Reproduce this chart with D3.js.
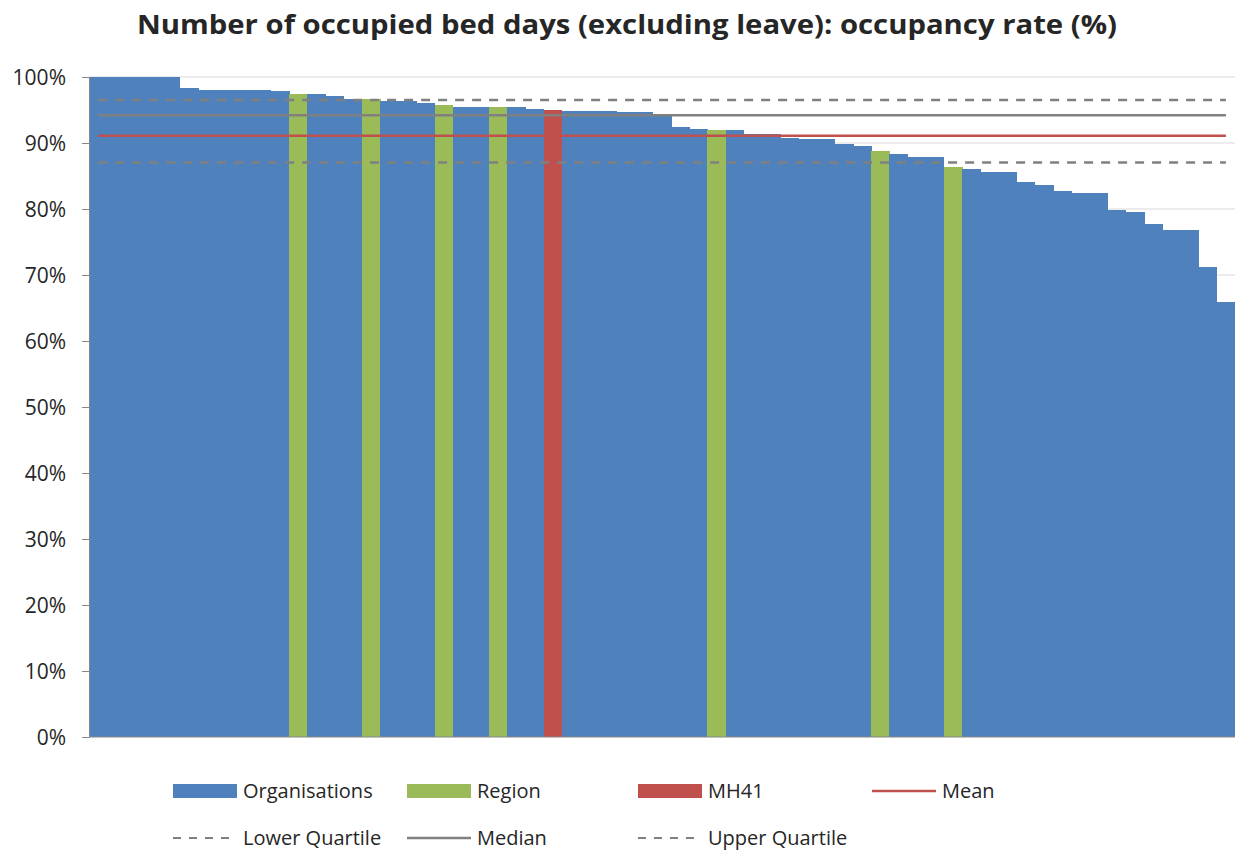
<!DOCTYPE html>
<html>
<head>
<meta charset="utf-8">
<script src="https://cdn.jsdelivr.net/npm/d3@7"></script>
<style>
  body { margin: 0; background: #fff; }
  text { font-family: "Open Sans", Lato, sans-serif; fill: #262626; }
</style>
</head>
<body>
<div id="chart"></div>
<script>
// occupancy rate (%) per organisation, sorted high to low
const occupancy = [
    100, 100, 100, 100, 100, 98.3, 98.1, 98.1, 98.1, 98.1,
    97.9, 97.5, 97.5, 97.1, 96.7, 96.7, 96.3, 96.3, 96.1, 95.8,
    95.5, 95.5, 95.4, 95.4, 95.15, 95.0, 94.8, 94.8, 94.8, 94.65,
    94.65, 94.3, 92.5, 92.05, 91.9, 91.9, 91.3, 91.3, 90.8, 90.55,
    90.55, 89.8, 89.5, 88.8, 88.3, 87.95, 87.95, 86.3, 86.1, 85.65,
    85.65, 84.15, 83.6, 82.8, 82.4, 82.4, 79.85, 79.6, 77.7, 76.75,
    76.75, 71.15, 65.85
];
const regionBars = [11, 15, 19, 22, 34, 43, 47];
const providerBar = 25; // MH41

const meanValue = 91.1;
const medianValue = 94.2;
const lowerQuartile = 87.05;
const upperQuartile = 96.5;

const yTicks = [0, 10, 20, 30, 40, 50, 60, 70, 80, 90, 100];

const width = 1240;
const height = 858;
const margin = {left: 89, right: 5, top: 77, bottom: 121};

const colors = {
    org: "#4F81BD",
    region: "#9BBB59",
    provider: "#C0504D",
    mean: "#C0504D",
    stat: "#808080"
};

const svg = d3.select("#chart")
    .append("svg")
    .attr("width", width)
    .attr("height", height);

const x = d3.scaleBand()
    .domain(d3.range(occupancy.length))
    .range([margin.left, width - margin.right])
    .padding(0);

const y = d3.scaleLinear()
    .domain([0, 100])
    .range([height - margin.bottom, margin.top]);

// gridlines
svg.append("g")
    .selectAll("line")
    .data(yTicks.slice(1))
    .join("line")
    .attr("x1", margin.left)
    .attr("x2", width - margin.right)
    .attr("y1", d => y(d))
    .attr("y2", d => y(d))
    .attr("stroke", "#D9D9D9")
    .attr("stroke-width", 1);

const barColor = i => {
    if (i === providerBar) return colors.provider;
    if (regionBars.includes(i)) return colors.region;
    return colors.org;
}

const lastBar = occupancy.length - 1;

svg.append("g")
    .attr("shape-rendering", "crispEdges")
    .selectAll("rect")
    .data(occupancy)
    .join("rect")
    .attr("x", (d, i) => x(i))
    .attr("y", d => y(d))
    .attr("width", (d, i) => i === lastBar ? x.bandwidth() : x.bandwidth() + 0.5)
    .attr("height", d => y(0) - y(d))
    .attr("fill", (d, i) => barColor(i));

// y axis
const yAxis = svg.append("g")
    .attr("transform", `translate(${margin.left},0)`)
    .call(d3.axisLeft(y).tickValues(yTicks).tickSize(7).tickPadding(16).tickFormat(d => d + "%"));
yAxis.select(".domain").attr("stroke", "#868686");
yAxis.selectAll(".tick line").attr("stroke", "#868686");
yAxis.selectAll(".tick text")
    .style("font-size", "21px")
    .attr("fill", "#262626")
    .attr("dy", "0.36em");

// x axis baseline
svg.append("line")
    .attr("x1", margin.left)
    .attr("x2", width - margin.right)
    .attr("y1", y(0))
    .attr("y2", y(0))
    .attr("stroke", "#868686");

// summary lines
const statLines = [
    {value: upperQuartile, color: colors.stat, dash: "9,8"},
    {value: medianValue, color: colors.stat, dash: null},
    {value: meanValue, color: colors.mean, dash: null},
    {value: lowerQuartile, color: colors.stat, dash: "9,8"}
];

const line = v => d3.line()
    .x((d, i) => x(i) + x.bandwidth() / 2)
    .y(() => y(v))(occupancy);

svg.append("g")
    .selectAll("path")
    .data(statLines)
    .join("path")
    .attr("d", d => line(d.value))
    .attr("fill", "none")
    .attr("stroke", d => d.color)
    .attr("stroke-width", 2.5)
    .attr("stroke-dasharray", d => d.dash);

// title
svg.append("text")
    .attr("x", 627)
    .attr("y", 34)
    .attr("text-anchor", "middle")
    .attr("textLength", 980)
    .attr("lengthAdjust", "spacingAndGlyphs")
    .style("font-size", "27px")
    .style("font-weight", "bold")
    .attr("fill", "#000")
    .text("Number of occupied bed days (excluding leave): occupancy rate (%)");

// legend
const legendItems = [
    {label: "Organisations", type: "rect", color: colors.org, x: 173, y: 791},
    {label: "Region", type: "rect", color: colors.region, x: 407, y: 791},
    {label: "MH41", type: "rect", color: colors.provider, x: 638, y: 791},
    {label: "Mean", type: "line", color: colors.mean, x: 872, y: 791},
    {label: "Lower Quartile", type: "dash", color: colors.stat, x: 173, y: 838},
    {label: "Median", type: "line", color: colors.stat, x: 407, y: 838},
    {label: "Upper Quartile", type: "dash", color: colors.stat, x: 638, y: 838}
];

const legend = svg.append("g")
    .selectAll("g")
    .data(legendItems)
    .join("g")
    .attr("transform", d => `translate(${d.x},${d.y})`);

legend.filter(d => d.type === "rect")
    .append("rect")
    .attr("x", 0)
    .attr("y", -7)
    .attr("width", 64)
    .attr("height", 14)
    .attr("fill", d => d.color);

legend.filter(d => d.type !== "rect")
    .append("line")
    .attr("x1", 0)
    .attr("x2", 64)
    .attr("stroke", d => d.color)
    .attr("stroke-width", d => d.type === "dash" ? 2 : 2.5)
    .attr("stroke-dasharray", d => d.type === "dash" ? "8,8" : null);

legend.append("text")
    .attr("x", 70)
    .attr("dy", "0.36em")
    .style("font-size", "20px")
    .text(d => d.label);
</script>
</body>
</html>
